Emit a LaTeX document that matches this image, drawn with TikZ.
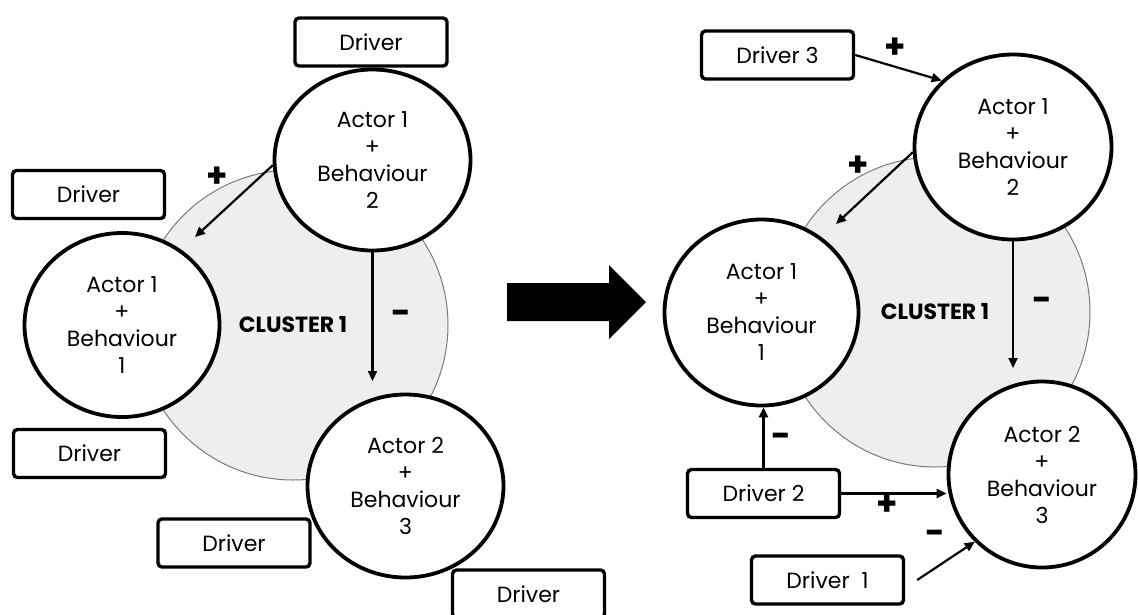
\documentclass[tikz,border=0pt]{standalone}
\usepackage{fontspec}
\setmainfont{Poppins}
\usetikzlibrary{shapes.geometric,arrows.meta}
\definecolor{clusterfill}{HTML}{EEEEEE}
\definecolor{clusterline}{HTML}{7A7A7A}
\tikzset{
  actor/.style={ellipse, draw, line width=3.8pt, fill=white, inner sep=0pt,
    align=center, font=\fontsize{22}{27}\selectfont},
  drv/.style={draw, line width=3.4pt, rounded corners=4pt, fill=white,
    minimum width=152pt, minimum height=48pt, inner sep=0pt,
    font=\fontsize{22}{24}\selectfont},
  cluster/.style={circle, fill=clusterfill, draw=clusterline, line width=1pt,
    minimum size=310pt, inner sep=0pt, font=\fontsize{22}{24}\selectfont\bfseries},
  link/.style={line width=2.2pt, -{Triangle[length=10pt,width=9pt]}},
  sign/.style={inner sep=0pt, font=\fontsize{34}{34}\selectfont\bfseries}
}
\begin{document}
\begin{tikzpicture}[x=1pt,y=-1pt]
\useasboundingbox (0,0) rectangle (1138,614);

% ---------- before: loose drivers ----------
\node[cluster] (lcl) at (293,325) {CLUSTER 1};

\node[drv] (ld1) at (371,42)    {Driver};
\node[drv] (ld2) at (88.5,194.5) {Driver};
\node[drv] (ld3) at (89.5,453.5) {Driver};
\node[drv] (ld4) at (234,543)   {Driver};
\node[drv] (ld5) at (528.5,594) {Driver};

\node[actor, minimum width=196pt, minimum height=181pt] (l12) at (372.5,160)
  {Actor 1\\+\\Behaviour\\2};
\node[actor, minimum width=195pt, minimum height=184pt] (l11) at (122,325)
  {Actor 1\\+\\Behaviour\\1};
\node[actor, minimum width=196pt, minimum height=183pt] (l23) at (405.5,486)
  {Actor 2\\+\\Behaviour\\3};

\coordinate (ltipa) at (195,237);
\coordinate (ltipb) at (372.5,381);
\draw[link] (l12.183) -- (ltipa);
\draw[link] (l12.south) -- (ltipb);
\node[sign] (lsa) at (217,177) {+};
\node[sign] (lsb) at (401,317) {-};

% ---------- transition ----------
\fill (507,283) -- (609,283) -- (609,265) -- (646,302) -- (609,339)
  -- (609,321) -- (507,321) -- cycle;

% ---------- after: drivers linked ----------
\node[cluster] (rcl) at (935,312) {CLUSTER 1};

\node[drv] (rd3) at (777.5,55)  {Driver 3};
\node[drv] (rd2) at (763.5,493.5) {Driver 2};
\node[drv] (rd1) at (827.5,580) {Driver~~1};

\node[actor, minimum width=197pt, minimum height=185pt] (r12) at (1013,147)
  {Actor 1\\+\\Behaviour\\2};
\node[actor, minimum width=194pt, minimum height=186pt] (r11) at (761.5,312.5)
  {Actor 1\\+\\Behaviour\\1};
\node[actor, minimum width=187pt, minimum height=186pt] (r23) at (1042,474.5)
  {Actor 2\\+\\Behaviour\\3};

\coordinate (rtipa) at (836,224);
\coordinate (rtipb) at (1013,368);
\coordinate (rd1tail) at ([xshift=12pt]rd1.east);
\draw[link] (r12.183) -- (rtipa);
\draw[link] (r12.south) -- (rtipb);
\draw[link] (rd3.east) -- (r12.137);
\draw[link] (rd2.north) -- (rd2.north |- r11.south);
\draw[link] (rd2.east) -- (r23.west |- rd2.east);
\draw[link] (rd1tail) -- (r23.225);

\node[sign] (rsa) at (858,166) {+};
\node[sign] (rsb) at (1042,304) {-};
\node[sign] (rsc) at (895,48)   {+};
\node[sign] (rsd) at (781,440)  {-};
\node[sign] (rse) at (887,505)  {+};
\node[sign] (rsf) at (935,537)  {-};
\end{tikzpicture}
\end{document}
